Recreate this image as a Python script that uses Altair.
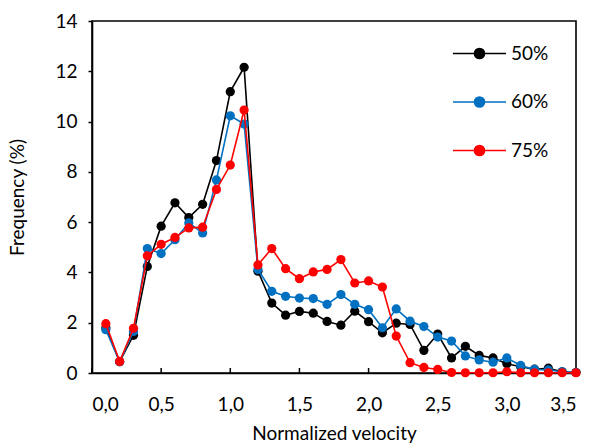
import altair as alt
import pandas as pd

x_vals = [round(0.1 * i, 1) for i in range(1, 36)]

s50 = [1.80, 0.45, 1.50, 4.24, 5.84, 6.77, 6.18, 6.71, 8.45, 11.19,
       12.16, 4.05, 2.78, 2.30, 2.45, 2.38, 2.05, 1.90, 2.46, 2.04,
       1.60, 1.98, 1.93, 0.90, 1.55, 0.60, 1.06, 0.70, 0.60, 0.37,
       0.25, 0.15, 0.19, 0.05, 0.02]
s60 = [1.72, 0.45, 1.65, 4.95, 4.75, 5.30, 5.97, 5.57, 7.68, 10.23,
       9.90, 4.12, 3.25, 3.05, 2.98, 2.96, 2.73, 3.12, 2.73, 2.52,
       1.80, 2.55, 2.06, 1.85, 1.43, 1.27, 0.68, 0.52, 0.43, 0.60,
       0.30, 0.14, 0.12, 0.05, 0.02]
s75 = [1.96, 0.46, 1.78, 4.66, 5.12, 5.39, 5.77, 5.80, 7.30, 8.27,
       10.46, 4.30, 4.95, 4.15, 3.75, 4.02, 4.12, 4.51, 3.58, 3.66,
       3.42, 1.47, 0.41, 0.22, 0.14, 0.02, 0.01, 0.01, 0.01, 0.05,
       0.01, 0.01, 0.01, 0.01, 0.01]

series_names = ["50%", "60%", "75%"]
series_colors = ["#000000", "#0070C0", "#FF0000"]
x_ticks = [0.0, 0.5, 1.0, 1.5, 2.0, 2.5, 3.0, 3.5]
y_ticks = [0, 2, 4, 6, 8, 10, 12, 14]

rows = []
for name, vals in zip(series_names, [s50, s60, s75]):
    for xv, yv in zip(x_vals, vals):
        rows.append({"x": xv, "y": yv, "series": name})
df = pd.DataFrame(rows)

FONT = "Lato"
FS = 19
W, H = 484, 352

xscale = alt.Scale(domain=[0, 3.5], nice=False, zero=False)
yscale = alt.Scale(domain=[0, 14], nice=False)
cscale = alt.Scale(domain=series_names, range=series_colors)

legend_path = ("M-1,0L1,0M-0.19,0a0.19,0.19 0 1,0 0.38,0"
               "a0.19,0.19 0 1,0 -0.38,0")

xaxis = alt.Axis(title="Normalized velocity", values=x_ticks,
                 labelExpr="replace(format(datum.value, '.1f'), '.', ',')",
                 ticks=False, tickSize=0, labelPadding=22, titlePadding=10,
                 grid=False)
yaxis = alt.Axis(title="Frequency (%)", values=y_ticks, grid=False,
                 tickSize=4, labelPadding=11, titlePadding=27)

legend = alt.Legend(title=None, orient="none", legendX=360, legendY=5,
                    symbolType=legend_path, symbolSize=2809,
                    symbolStrokeWidth=1.6, labelFontSize=FS, labelFont=FONT,
                    rowPadding=10.5, labelOffset=4, labelColor="#000")

layers = []
for i, name in enumerate(series_names):
    base = alt.Chart(df).transform_filter(alt.datum.series == name)
    enc = dict(
        x=alt.X("x:Q", scale=xscale, axis=xaxis),
        y=alt.Y("y:Q", scale=yscale, axis=yaxis),
        color=alt.Color("series:N", scale=cscale,
                        legend=legend if i == 0 else None),
    )
    layers.append(base.mark_line(strokeWidth=1.6).encode(**enc))
    layers.append(base.mark_point(filled=True, size=85, opacity=1,
                                  shape="circle").encode(**enc))

tick_df = pd.DataFrame({"t": x_ticks})
ticks = alt.Chart(tick_df).mark_rule(color="#000", strokeWidth=1.5).encode(
    x=alt.X("t:Q", scale=xscale),
    y=alt.value(H),
    y2=alt.value(H - 5),
)

chart = alt.layer(ticks, *layers).properties(
    width=W, height=H,
    autosize=alt.AutoSizeParams(type="none"),
    padding={"left": 92, "top": 21, "right": 13, "bottom": 75},
    background="white",
).configure_view(
    stroke="#000", strokeWidth=1.6
).configure_axis(
    domainColor="#000", domainWidth=1.6, tickColor="#000", tickWidth=1.5,
    labelFont=FONT, labelFontSize=FS, labelColor="#000",
    titleFont=FONT, titleFontSize=FS, titleColor="#000",
    titleFontWeight="normal",
)

chart.save("out.html", embed_options={"renderer": "svg", "actions": False})
